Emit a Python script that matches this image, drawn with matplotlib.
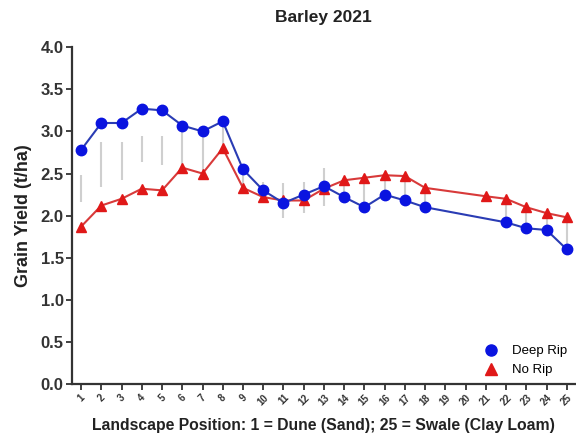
import numpy as np
import matplotlib.pyplot as plt

plt.rcParams['font.family'] = ['Liberation Sans', 'DejaVu Sans']

# landscape positions
deep_pos = [1, 2, 3, 4, 5, 6, 7, 8, 9, 10, 11, 12, 13, 14, 15, 16, 17, 18, 22, 23, 24, 25]
deep_rip = [2.78, 3.10, 3.10, 3.27, 3.25, 3.07, 3.00, 3.12, 2.55, 2.30, 2.15, 2.25, 2.35,
            2.22, 2.10, 2.25, 2.18, 2.10, 1.92, 1.85, 1.83, 1.60]

no_pos = [1, 2, 3, 4, 5, 6, 7, 8, 9, 10, 11, 12, 13, 14, 15, 16, 17, 18, 21, 22, 23, 24, 25]
no_rip = [1.87, 2.12, 2.20, 2.32, 2.30, 2.57, 2.50, 2.80, 2.33, 2.22, 2.18, 2.18, 2.32,
          2.42, 2.45, 2.48, 2.47, 2.33, 2.23, 2.20, 2.10, 2.03, 1.98]

# grey LSD bars (low, high)
lsd_pos = [1, 2, 3, 4, 5, 6, 7, 8, 9, 10, 11, 12, 13, 14, 15, 16, 17, 18, 22, 23, 24, 25]
lsd_lo = [2.16, 2.34, 2.42, 2.64, 2.60, 2.58, 2.54, 2.81, 2.27, 2.22, 1.97, 2.03, 2.12,
          2.22, 2.10, 2.27, 2.18, 2.09, 1.92, 1.85, 1.83, 1.61]
lsd_hi = [2.48, 2.87, 2.87, 2.94, 2.94, 3.01, 2.98, 3.05, 2.50, 2.40, 2.39, 2.40, 2.56,
          2.45, 2.45, 2.48, 2.46, 2.33, 2.18, 2.07, 2.00, 1.97]

fig = plt.figure(figsize=(5.76, 4.41), dpi=100)
ax = fig.add_axes([0.125, 0.129, 0.873, 0.764])

ax.vlines(lsd_pos, lsd_lo, lsd_hi, color='#cfcfcf', linewidth=1.5, zorder=1)

ax.plot(deep_pos, deep_rip, color='#2a3cb4', linewidth=1.5, marker='o', markersize=7.5,
        markerfacecolor='#0a14e0', markeredgecolor='#0a14e0', zorder=3, label='Deep Rip')
ax.plot(no_pos, no_rip, color='#d83a3a', linewidth=1.5, marker='^', markersize=7.5,
        markerfacecolor='#e01818', markeredgecolor='#e01818', zorder=2, label='No Rip')

ax.set_xlim(0.55, 25.4)
ax.set_ylim(0, 4.0)
ax.set_xticks(range(1, 26))
ax.set_xticklabels([str(i) for i in range(1, 26)], rotation=45, fontsize=7, fontweight='bold',
                   color='#333333')
ax.set_yticks(np.arange(0, 4.01, 0.5))
ax.set_yticklabels(['%.1f' % v for v in np.arange(0, 4.01, 0.5)], fontsize=12, fontweight='bold',
                   color='#333333')

for s in ['top', 'right']:
    ax.spines[s].set_visible(False)
for s in ['left', 'bottom']:
    ax.spines[s].set_linewidth(1.6)
    ax.spines[s].set_color('#333333')
ax.tick_params(width=1.3, length=4, color='#333333', pad=2)

ax.set_title('Barley 2021', fontsize=12.5, fontweight='bold', pad=18, color='#222222')
ax.set_ylabel('Grain Yield (t/ha)', fontsize=13, fontweight='bold', labelpad=6,
              color='#222222')
ax.set_xlabel('Landscape Position: 1 = Dune (Sand); 25 = Swale (Clay Loam)', fontsize=11.3,
              fontweight='bold', labelpad=8, color='#222222')

h1 = ax.plot([], [], linestyle='none', marker='o', markersize=8, color='#0a14e0')[0]
h2 = ax.plot([], [], linestyle='none', marker='^', markersize=8, color='#e01818')[0]
ax.legend([h1, h2], ['Deep Rip', 'No Rip'], loc='lower right', frameon=False, fontsize=9.5,
          handletextpad=0.6, borderaxespad=0.2, labelspacing=0.5)

fig.savefig('out.png', dpi=100)
